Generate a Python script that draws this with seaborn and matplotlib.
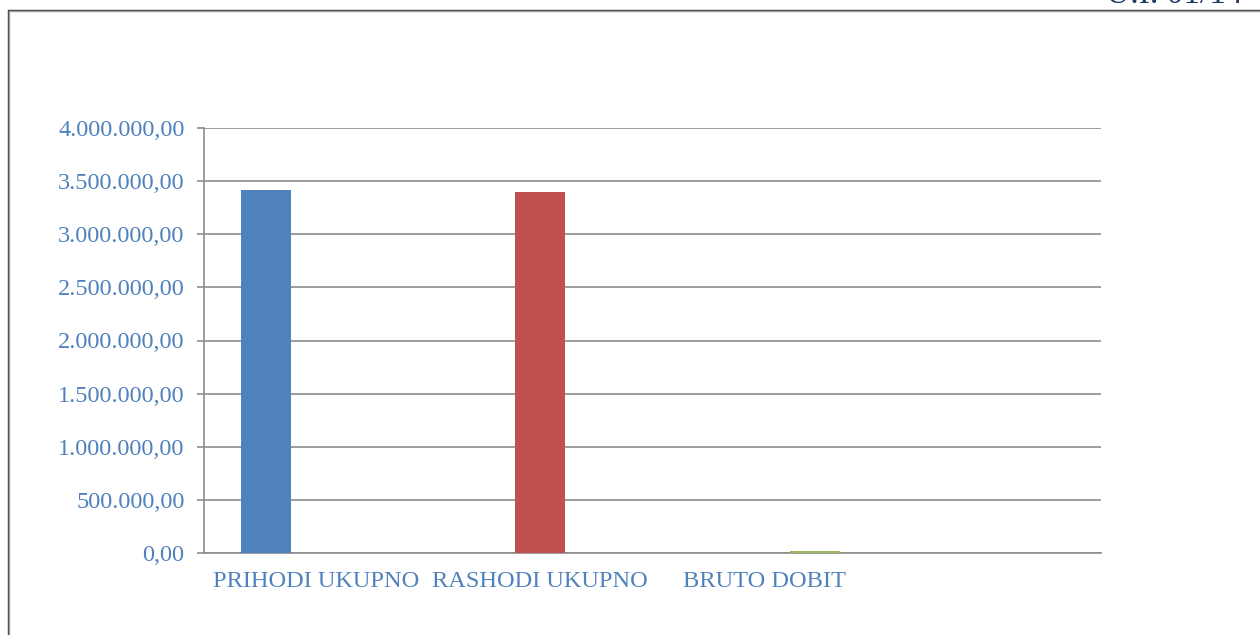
import matplotlib
matplotlib.use("Agg")
import matplotlib.pyplot as plt
from matplotlib.lines import Line2D
from matplotlib.ticker import FuncFormatter, FixedLocator
import seaborn as sns
import pandas as pd

categories = ["PRIHODI UKUPNO", "RASHODI UKUPNO", "BRUTO DOBIT", ""]
series = ["Prihodi", "Rashodi", "Bruto dobit"]
values = {
    "Prihodi":     [3415000, 0, 0, 0],
    "Rashodi":     [0, 3398000, 0, 0],
    "Bruto dobit": [0, 0, 17000, 0],
}
y_ticks = [0, 500000, 1000000, 1500000, 2000000, 2500000, 3000000, 3500000, 4000000]
colors = ["#4F81BD", "#C0504D", "#9BBB59"]
header_text = "U.I. 01/14"

rows = []
for s in series:
    for c, v in zip(categories, values[s]):
        rows.append({"cat": c, "series": s, "value": v})
df = pd.DataFrame(rows)

sns.set_theme(style="white")
plt.rcParams["font.family"] = ["Liberation Serif", "DejaVu Serif"]

fig = plt.figure(figsize=(12.6, 6.35), dpi=100)
ax = fig.add_axes([204 / 1260, 1 - 553 / 635, (1101 - 204) / 1260, (553 - 128) / 635])

sns.barplot(data=df, x="cat", y="value", hue="series", order=categories,
            hue_order=series, palette=colors, saturation=1, width=0.67, linewidth=0,
            errorbar=None, ax=ax, legend=False, zorder=3)

label_color = "#4F81BD"
grid_color = "#8C8C8C"

ax.set_xlim(-0.5, 3.5)
ax.set_ylim(0, 4000000)
ax.set_yticks(y_ticks)

def fmt(v, pos):
    s = f"{v:,.2f}"
    return s.replace(",", "X").replace(".", ",").replace("X", ".")

ax.yaxis.set_major_formatter(FuncFormatter(fmt))
ax.yaxis.grid(True, color=grid_color, linewidth=1.2, zorder=0)
ax.set_axisbelow(True)

ax.set_xticks(range(len(categories)))
ax.set_xticklabels(categories)
ax.xaxis.set_minor_locator(FixedLocator([-0.5, 0.5, 1.5, 2.5, 3.5]))
ax.tick_params(axis="x", which="major", length=0, pad=13, labelsize=17.6, labelcolor=label_color)
ax.tick_params(axis="x", which="minor", length=7, width=1.2, color=grid_color, direction="out")
ax.tick_params(axis="y", which="major", length=5, width=1.2, color=grid_color, direction="out",
               labelsize=17.5, labelcolor=label_color, pad=9, left=True)

for side in ["top", "right"]:
    ax.spines[side].set_visible(False)
for side in ["left", "bottom"]:
    ax.spines[side].set_color(grid_color)
    ax.spines[side].set_linewidth(1.2)

ax.set_xlabel("")
ax.set_ylabel("")

# page frame lines
fig.add_artist(Line2D([7.5 / 1260, 1.0], [1 - 10 / 635, 1 - 10 / 635], color="#3C3C3C", linewidth=1.0))
fig.add_artist(Line2D([7.5 / 1260, 1.0], [1 - 11.3 / 635, 1 - 11.3 / 635], color="#A0A0A0", linewidth=1.0))
fig.add_artist(Line2D([7.5 / 1260, 7.5 / 1260], [0, 1 - 10 / 635], color="#3C3C3C", linewidth=1.0))
fig.add_artist(Line2D([8.8 / 1260, 8.8 / 1260], [0, 1 - 11.3 / 635], color="#A0A0A0", linewidth=1.0))

fig.text(1106 / 1260, 1 - 3 / 635, header_text, ha="left", va="baseline",
         fontsize=24, color="#1F3864")

fig.savefig("out.png", dpi=100)
